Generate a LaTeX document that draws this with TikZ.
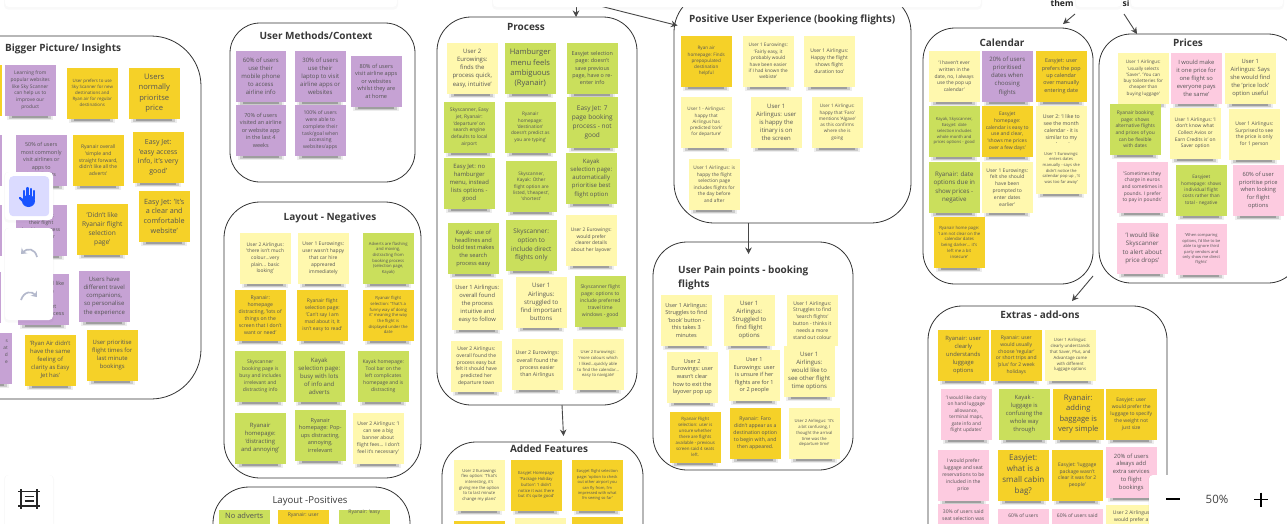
\documentclass[tikz,border=0pt]{standalone}
\usepackage{fontspec}
\setmainfont{Open Sans}
\usetikzlibrary{arrows.meta}
\definecolor{ly}{HTML}{FFF8AE}
\definecolor{og}{HTML}{F5D128}
\definecolor{gr}{HTML}{CADF5C}
\definecolor{pu}{HTML}{C6A2D4}
\definecolor{pk}{HTML}{FDCBE0}
\definecolor{ink}{HTML}{555555}
\definecolor{frameink}{HTML}{333333}
\definecolor{tone}{HTML}{B4B9CC}
\newcommand{\setnotefont}[1]{\pgfmathsetmacro{\fsz}{#1*1.0}\pgfmathsetmacro{\lsp}{#1*1.36}\fontsize{\fsz}{\lsp}\selectfont}
\tikzset{
 notebox/.style={anchor=north west,minimum width=50.5pt,minimum height=50.5pt,text width=62pt,inner xsep=-5.75pt,inner ysep=0pt,outer sep=0pt,align=flush center,text=ink},
 framebox/.style={draw=frameink,line width=0.8pt,anchor=north west,inner sep=0pt,outer sep=0pt},
 titlebox/.style={text=black!78,font=\fontsize{10}{13.5}\selectfont\bfseries,inner sep=0pt},
 conn/.style={draw=black!72,line width=0.9pt,-{Stealth[length=6.5pt,width=6.5pt]}},
 panelbox/.style={fill=white,anchor=north west,inner sep=0pt,outer sep=0pt,rounded corners=4pt},
 uiarrow/.style={draw=tone,line width=1.7pt,-{Stealth[length=5pt,width=8pt]}},
 iconline/.style={draw=black!85,line width=1.6pt}
}
% name, x, y, colour, size, text
\newcommand{\stickynote}[6]{%
 \fill[black,opacity=.07] (#2+2,#3+49) rectangle (#2+48,#3+54.5);
 \fill[black,opacity=.14] (#2+4,#3+49) rectangle (#2+46,#3+53.5);
 \fill[black,opacity=.22] (#2+7,#3+49) rectangle (#2+43,#3+52.5);
 \node[notebox,fill=#4,font={\setnotefont{#5}}] (#1) at (#2,#3) {#6};
}
% name, x1, y1, x2, y2, radius
\newcommand{\frameregion}[6]{%
 \node[framebox,rounded corners=#6pt,minimum width={(#4-#2)*1pt},minimum height={(#5-#3)*1pt}] (#1) at (#2,#3) {};
}
% name, x1, y1, x2, y2
\newcommand{\uipanel}[5]{%
 \fill[black,opacity=.025,rounded corners=4pt] (#2-1,#3) rectangle (#4+1,#5+2.5);
 \node[panelbox,minimum width={(#4-#2)*1pt},minimum height={(#5-#3)*1pt}] (#1) at (#2,#3) {};
}
\begin{document}
\begin{tikzpicture}[x=1pt,y=-1pt]
\useasboundingbox (0,0) rectangle (1287,523);
\clip (0,0) rectangle (1287,523);
\fill[white] (0,0) rectangle (1287,523);

% frames
\frameregion{bigger}{-80}{36}{201}{399}{50}
\frameregion{methods}{230}{23}{415}{182}{30}
\frameregion{layneg}{224}{202}{421}{478}{36}
\frameregion{laypos}{213}{487}{410}{600}{36}
\frameregion{process}{437}{17}{637}{405}{34}
\frameregion{added}{442}{442}{643}{620}{34}
\frameregion{positive}{674}{-8}{911}{223}{40}
\frameregion{pain}{653}{242}{853}{470}{34}
\frameregion{calendar}{923}{28}{1093}{284}{32}
\frameregion{prices}{1099}{34}{1300}{283}{32}
\frameregion{extras}{928}{306}{1167}{620}{34}

% titles
\node[titlebox,anchor=west] (tbig) at (5,49) {Bigger Picture/ Insights};
\node[titlebox] (tmeth) at (316,36) {User Methods/Context};
\node[titlebox] (tneg) at (330,218) {Layout - Negatives};
\node[titlebox,font=\fontsize{9.6}{12.5}\selectfont] (tpos) at (310,501) {Layout -Positives};
\node[titlebox] (tproc) at (526,27) {Process};
\node[titlebox] (tadd) at (549,449) {Added Features};
\node[titlebox,anchor=west] (tgood) at (689,20) {Positive User Experience (booking flights)};
\node[titlebox,anchor=north west,align=left] (tpain) at (678,266) {User Pain points - booking\\flights};
\node[titlebox] (tcal) at (1002,43) {Calendar};
\node[titlebox] (tpri) at (1188,43) {Prices};
\node[titlebox] (text) at (1040,315) {Extras - add-ons};

% Bigger picture
\stickynote{bs1}{-49}{65}{og}{5}{}
\stickynote{bs2}{-49}{135}{pu}{5}{}
\stickynote{bs3}{-49}{205}{pu}{5}{}
\stickynote{bs4}{-50}{272}{pu}{5}{}
\stickynote{b1}{5}{65}{pu}{4.9}{Learning from\\popular websites\\like Sky Scanner\\can help us to\\improve our\\product}
\stickynote{b2}{67}{68}{og}{4.4}{User prefers to use\\Sky Scanner for new\\destinations and\\Ryan air for regular\\destinations}
\stickynote{b3}{129}{68}{og}{7.6}{Users\\normally\\prioritse\\price}
\stickynote{b4}{16}{135}{pu}{5.4}{50\% of users\\most commonly\\visit airlines or\\apps to\\book flights}
\stickynote{b5}{73}{135}{og}{5}{Ryanair overall\\'simple and\\straight forward,\\didn't like all the\\adverts'}
\stickynote{b6}{133}{132}{og}{7}{Easy Jet:\\'easy access\\info, it's very\\good'}
\stickynote{b7}{16}{205}{pu}{5}{Users start\\their flight\\booking process\\on Kayak or\\Sky}
\stickynote{b8}{77}{204}{og}{6.6}{'Didn't like\\Ryanair flight\\selection\\page'}
\stickynote{b9}{139}{191}{og}{7.2}{Easy Jet: 'It's\\a clear and\\comfortable\\website'}
\stickynote{b10}{18}{274}{pu}{5.5}{Users would like\\a simple\\and\\consistent\\booking process}
\stickynote{b11}{79}{271}{pu}{6}{Users have\\different travel\\companions,\\so personalise\\the experience}
\stickynote{b12}{-39}{333}{pu}{5}{}
\node[anchor=north east,align=right,text=ink,inner sep=0pt,font=\fontsize{4.8}{7}\selectfont] (b12t) at (8,340) {s\\at\\d\\e};
\stickynote{b13}{25}{335}{og}{5.9}{'Ryan Air didn't\\have the same\\feeling of\\clarity as Easy\\Jet has'}
\stickynote{b14}{87}{330}{og}{5.9}{User prioritise\\flight times for\\last minute\\bookings}

% User methods
\stickynote{m1}{235.5}{51}{pu}{6}{60\% of users\\use their\\mobile phone\\to access\\airline info}
\stickynote{m2}{295}{51}{pu}{6}{30\% of users\\use their\\laptop to visit\\airline apps or\\websites}
\stickynote{m3}{351}{56}{pu}{5.6}{80\% of users\\visit airline apps\\or websites\\whilst they are\\at home}
\stickynote{m4}{235.5}{105}{pu}{5.5}{70\% of users\\visited an airline\\or website app\\in the last 4\\weeks}
\stickynote{m5}{295}{105}{pu}{5.1}{100\% of users\\were able to\\complete their\\task/goal when\\accessing\\websites/apps}

% Layout negatives
\stickynote{n1}{240}{233}{ly}{4.9}{User 2 Airlingus:\\'there isn't much\\colour...very\\plain... basic\\looking'}
\stickynote{n2}{298}{233}{ly}{5}{User 1 Eurowings:\\user wasn't happy\\that car hire\\appreared\\immediately}
\stickynote{n3}{363}{233}{gr}{4.2}{Adverts are flashing\\and moving,\\distracting from\\booking process\\(selection page,\\Kayak)}
\stickynote{n4}{235}{290}{og}{5.1}{Ryanair:\\homepage\\distracting, 'lots of\\things on the\\screen that I don't\\want or need'}
\stickynote{n5}{297}{290}{og}{5}{Ryanair flight\\selection page:\\'Can't say I am\\mad about it, It\\isn't easy to read'}
\stickynote{n6}{363}{290}{og}{4.2}{Ryanair flight\\selection: 'That's a\\funny way of doing\\it' meaning the way\\the flight is\\displayed under the\\date}
\stickynote{n7}{235}{351}{gr}{5}{Skyscanner\\booking page is\\busy and includes\\irrelevant and\\distracting info}
\stickynote{n8}{294}{351}{gr}{6}{Kayak\\selection page:\\busy with lots\\of info and\\adverts}
\stickynote{n9}{358}{351}{gr}{5}{Kayak homepage:\\Tool bar on the\\left complicates\\homepage and is\\distracting}
\stickynote{n10}{235}{413}{gr}{5.9}{Ryanair\\homepage:\\'distracting\\and annoying'}
\stickynote{n11}{295}{410}{gr}{5.5}{Ryanair\\homepage: Pop-\\ups distracting,\\annoying,\\irrelevant}
\stickynote{n12}{353}{413}{ly}{5}{User 2 Airlingus: 'I\\can see a big\\banner about\\flight fees... I don't\\feel it's necessary'}

% Layout positives
\stickynote{l1}{219}{510}{gr}{7.5}{No adverts\\[30pt]~}
\stickynote{l2}{278}{510}{og}{5}{Ryanair: user\\[34pt]~}
\stickynote{l3}{339}{510}{gr}{5}{Ryanair: 'easy\\[40pt]~}

% Process
\stickynote{p1}{447}{43}{ly}{6}{User 2\\Eurowings:\\finds the\\process quick,\\easy, intuitive'}
\stickynote{p2}{505}{43}{gr}{7.6}{Hamburger\\menu feels\\ambiguous\\(Ryanair)}
\stickynote{p3}{567}{43}{gr}{5.4}{Easyjet selection\\page: doesn't\\save previous\\page, have o re-\\enter info}
\stickynote{p4}{444}{102}{gr}{4.9}{Skyscanner, Easy\\jet, Ryanair:\\'departure' on\\search engine\\defaults to local\\airport}
\stickynote{p5}{505}{102}{gr}{4.7}{Ryanair\\homepage:\\'destination'\\doesn't predict as\\you are typing'}
\stickynote{p6}{567}{97}{gr}{6.5}{Easy Jet: 7\\page booking\\process - not\\good}
\stickynote{p7}{444}{158}{gr}{5.9}{Easy Jet: no\\hamburger\\menu, instead\\lists options -\\good}
\stickynote{p8}{506}{161}{gr}{4.7}{Skyscanner,\\Kayak: Other\\flight option are\\listed, 'cheapest',\\'shortest'}
\stickynote{p9}{566}{153}{gr}{6}{Kayak\\selection page:\\automatically\\prioritise best\\flight option}
\stickynote{p10}{448}{223}{gr}{5.7}{Kayak: use of\\headlines and\\bold test makes\\the search\\process easy}
\stickynote{p11}{506}{220}{gr}{6.4}{Skyscanner:\\option to\\include direct\\flights only}
\stickynote{p12}{566}{215}{ly}{4.9}{User 2 Eurowings:\\would prefer\\clearer details\\about her layover}
\stickynote{p13}{452}{279}{ly}{5.8}{User 1 Airlingus:\\overall found\\the process\\intuitive and\\easy to follow}
\stickynote{p14}{516}{277}{ly}{6.1}{User 1\\Airlingus:\\struggled to\\find important\\buttons}
\stickynote{p15}{575}{276}{gr}{5}{Skyscanner flight\\page: options to\\include preferred\\travel time\\windows - good}
\stickynote{p16}{451}{341}{ly}{5}{User 2 Airlingus:\\overall found the\\process easy but\\felt it should have\\predicted her\\departure town}
\stickynote{p17}{512}{339}{ly}{5.2}{User 2 Eurowings:\\overall found the\\process easier\\than Airlingus}
\stickynote{p18}{573}{339}{ly}{4.2}{User 2 Eurowings:\\'more colours which\\I liked...quickly able\\to find the calendar...\\easy to navigate'}

% Added features
\stickynote{a1}{454}{460}{ly}{4.2}{User 2 Eurowings\\flex option: 'That's\\interesting, it's\\giving me the option\\to to last minute\\change my plans'}
\stickynote{a2}{511}{460}{og}{4.2}{Easyjet Homepage\\'Package Holiday\\button': 'I didn't\\notice it was there\\but it's quite good'}
\stickynote{a3}{572}{460}{og}{4}{Easyjet flight selection\\page: 'option to check\\out other airport you\\can fly from, I'm\\impressed with what\\I'm seeing so far'}
\stickynote{a4}{454}{521}{og}{4}{}
\stickynote{a5}{515}{518}{ly}{4}{}
\stickynote{a6}{572}{517}{og}{4}{}

% Positive experience
\stickynote{u1}{681}{36}{og}{4.6}{Ryan air\\homepage: Finds\\prepopulated\\destination\\helpful}
\stickynote{u2}{743}{36}{ly}{4.7}{User 1 Eurowings:\\'Fairly easy, it\\probably would\\have been easier\\if I had known the\\webiste'}
\stickynote{u3}{804}{36}{ly}{5}{User 1 Airlingus:\\Happy the flight\\shows flight\\duration too'}
\stickynote{u4}{681}{97}{ly}{4.6}{User 1 - Airlingus:\\happy that\\Airlingus has\\predicted 'cork'\\for departure'}
\stickynote{u5}{751}{97}{ly}{6}{User 1\\Airlingus: user\\is happy the\\itinary is on\\the screen}
\stickynote{u6}{812}{97}{ly}{4.6}{User 1 Airlingus:\\happy that 'Faro'\\mentions 'Algave'\\as this confirms\\where she is\\going}
\stickynote{u7}{689}{159}{ly}{4.8}{User 1 Airlingus: is\\happy the flight\\selection page\\includes flights for\\the day before\\and after}

% Pain points
\stickynote{f1}{661}{295}{ly}{5.5}{User 1 Airlingus:\\Struggles to find\\'book' button -\\this takes 3\\minutes}
\stickynote{f2}{724}{295}{ly}{6}{User 1\\Airlingus:\\Struggled to\\find flight\\options}
\stickynote{f3}{787}{295}{ly}{5}{User 1 Airlingus:\\Struggles to find\\'search flights'\\button - thinks it\\needs a more\\stand out colour}
\stickynote{f4}{667}{352}{ly}{5.6}{User 2\\Eurowings: user\\wasn't clear\\how to exit the\\layover pop up}
\stickynote{f5}{729}{350}{ly}{5.5}{User 1\\Eurowings: user\\is unsure if her\\flights are for 1\\or 2 people}
\stickynote{f6}{784}{346}{ly}{6}{User 1\\Airlingus:\\would like to\\see other flight\\time options}
\stickynote{f7}{670}{412}{og}{4.4}{Ryanair Flight\\selection: user is\\unsure whether\\there are flights\\available - previous\\screen said 4 seats\\left.}
\stickynote{f8}{730}{408}{og}{5.1}{Ryanair: Faro\\didn't appear as a\\destination option\\to begin with, and\\then appeared.}
\stickynote{f9}{789}{408}{ly}{4.2}{User 2 Airlingus: 'It's\\a bit confusing, I\\thought the arrival\\time was the\\departure time'}

% Calendar
\stickynote{c1}{929}{51}{ly}{4.9}{'I haven't ever\\written in the\\date, no, I always\\use the pop up\\calendar'}
\stickynote{c2}{982}{51}{pu}{6}{20\% of users\\prioritised\\dates when\\choosing\\flights}
\stickynote{c3}{1036}{51}{og}{5.4}{Easyjet: user\\prefers the pop\\up calendar\\over manually\\entering date}
\stickynote{c4}{929}{106}{gr}{4.2}{Kayak, Skyscanner,\\Easyjet: date\\selection includes\\whole month and\\prices options - good}
\stickynote{c5}{982}{106}{og}{5}{Easyjet\\homepage:\\calendar is easy to\\use and clear,\\'shows me prices\\over a few days'}
\stickynote{c6}{1036}{106}{ly}{5.2}{User 2: 'I like to\\see the month\\calendar - it is\\similar to my\\phone'}
\stickynote{c7}{1036}{143}{ly}{4.1}{User 1 Eurowings:\\enters dates\\manually - says she\\didn't notice the\\calendar pop up , 'it\\was too far away'}
\stickynote{c8}{929}{162}{gr}{6.2}{Ryanair: date\\options due in\\show prices -\\negative}
\stickynote{c9}{982}{162}{ly}{5}{User 1 Eurowings:\\felt she should\\have been\\prompted to\\enter dates\\earlier'}
\stickynote{c10}{934}{217}{og}{4.3}{Ryanair home page:\\'I am not clear on the\\calendar dates\\being darker... it's\\left me a bit\\insecure'}

% Prices
\stickynote{r1}{1118}{53}{ly}{4.6}{User 1 Airlingus:\\'usually selects\\'Saver'. 'You can\\buy toiletteries for\\cheaper than\\buying luggage'}
\stickynote{r2}{1171}{53}{pk}{5.8}{I would make\\it one price for\\one flight so\\everyone pays\\the same'}
\stickynote{r3}{1225}{53}{ly}{5.8}{User 1\\Airlingus: Says\\she would find\\the 'price lock'\\option useful}
\stickynote{r4}{1110}{104}{gr}{4.9}{Ryanair booking\\page: shows\\alternative flights\\and prices of you\\can be flexible\\with dates}
\stickynote{r5}{1170}{108}{ly}{4.9}{User 1 Airlingus: 'I\\don't know what\\Collect Avios or\\Earn Credits is' on\\Saver option}
\stickynote{r6}{1229}{109}{ly}{5}{User 1 Airlingus:\\Surprised to see\\the price is only\\for 1 person}
\stickynote{r7}{1117}{162}{pk}{4.9}{'Sometimes they\\charge in euros\\and sometimes in\\pounds. I prefer\\to pay in pounds'}
\stickynote{r8}{1176}{165}{gr}{4.7}{Easyjeet\\homepage: shows\\individual flight\\costs rather than\\total - negative}
\stickynote{r9}{1233}{165}{pk}{5.7}{60\% of user\\prioritise price\\when looking\\for flight\\options}
\stickynote{r10}{1117}{223}{pk}{6.2}{'I would like\\Skyscanner\\to alert about\\price drops'}
\stickynote{r11}{1176}{224}{pk}{4}{'When comparing\\options, I'd like to be\\able to ignore third\\party vendors and\\only show me direct\\flights'}

% Extras
\stickynote{e1}{938}{330}{og}{5.8}{Ryanair: user\\clearly\\understands\\luggage\\options}
\stickynote{e2}{991}{330}{og}{5}{Ryanair: user\\would usually\\choose 'regular'\\or short trips and\\'plus' for 2 week\\holidays}
\stickynote{e3}{1045}{330}{ly}{4.3}{User 1 Airlingus:\\clearly understands\\that Saver, Plus, and\\Advantage come\\with different\\luggage options}
\stickynote{e4}{941}{389}{pk}{4.8}{'I would like clarity\\on hand luggage\\allowance,\\terminal maps,\\gate info and\\flight updates'}
\stickynote{e5}{999}{389}{gr}{5.8}{Kayak -\\luggage is\\confusing the\\whole way\\through}
\stickynote{e6}{1053}{389}{og}{7.6}{Ryanair:\\adding\\baggage is\\very simple}
\stickynote{e7}{1106}{389}{og}{5}{Easyjet: user\\would prefer the\\luggage to specify\\the weight not\\just size}
\stickynote{e8}{938}{450}{pk}{5}{I would prefer\\luggage and seat\\reservations to be\\included in the\\price}
\stickynote{e9}{998}{450}{og}{8}{Easyjet:\\what is a\\small cabin\\bag?}
\stickynote{e10}{1052}{450}{og}{5}{Easyjet: 'luggage\\package wasn't\\clear it was for 2\\people'}
\stickynote{e11}{1106}{447}{pk}{5.8}{20\% of users\\always add\\extra services\\to flight\\bookings}
\stickynote{e12}{938}{504}{pk}{5}{30\% of users said\\seat selection was\\[22pt]~}
\stickynote{e13}{998}{509}{pk}{5}{60\% of users\\[30pt]~}
\stickynote{e14}{1052}{509}{pk}{5}{60\% of users said\\[30pt]~}
\stickynote{e15}{1106}{505}{ly}{5}{User 2 Airlingus\\would prefer a\\[22pt]~}

% connectors
\coordinate (ctop) at (576,-4);
\coordinate (cside) at (600,6);
\coordinate (cthem) at (1075,14);
\coordinate (csi) at (1124,14);
\draw[conn] (ctop) -- (576,17);
\draw[conn] (cside) -- (677.5,25.5);
\draw[conn] ([xshift=25pt]process.south) -- ([xshift=21pt,yshift=6pt]added.north);
\draw[conn] ([xshift=-44pt]positive.south) -- ([xshift=-4.5pt,yshift=-12pt]pain.north);
\draw[conn] (cthem) -- (1063,24);
\draw[conn] (csi) -- (1137,34);
\draw[conn] ([xshift=85pt,yshift=8pt]calendar.south) -- ([xshift=24.5pt,yshift=5pt]extras.north);

% interface panels
\uipanel{pa}{5}{-8}{397}{7}
\uipanel{pb}{493}{-8}{981}{7}
\uipanel{pc}{1076}{-8}{1121}{7}
\uipanel{pd}{1131}{-8}{1283}{7}
\node[anchor=base,font=\fontsize{8.6}{10}\selectfont\bfseries,text=black!85,inner sep=0pt] (wthem) at (1062,6) {them};
\node[anchor=base,font=\fontsize{8.6}{10}\selectfont\bfseries,text=black!85,inner sep=0pt] (wsi) at (1126,6) {si};

\uipanel{phand}{5}{172}{53}{220}
\node[fill=blue!14!white,draw=none,rounded corners=4pt,minimum size=40pt,inner sep=0pt,anchor=north west] (hbtn) at (9,176) {};
\fill[blue!75!cyan!90!white] (28.5,201) ellipse (6.5 and 6);
\draw[line width=2.3pt,line cap=round,blue!75!cyan!90!white] (24,199) -- (24,191);
\draw[line width=2.3pt,line cap=round,blue!75!cyan!90!white] (27.5,199) -- (27.5,188);
\draw[line width=2.3pt,line cap=round,blue!75!cyan!90!white] (31,199) -- (31,189);
\draw[line width=2.3pt,line cap=round,blue!75!cyan!90!white] (34.2,199) -- (34.2,191);
\draw[line width=2.3pt,line cap=round,blue!75!cyan!90!white] (25,203) -- (20,198);
\uipanel{pundo}{5}{228}{53}{320}
\draw[uiarrow] (37,257) .. controls (35,248) and (27,248) .. (21,254);
\draw[uiarrow] (21,300) .. controls (24,291) and (32,291) .. (37,297);
\uipanel{pframe}{5}{475}{53}{530}
\draw[iconline] (18,491.5) -- (40,491.5);
\draw[iconline] (18,506) -- (40,506);
\draw[iconline] (21,489) -- (21,508.5);
\draw[iconline] (37,489) -- (37,508.5);
\draw[iconline] (24.5,496.5) -- (33.5,496.5);
\draw[iconline] (24.5,501) -- (33.5,501);
\uipanel{pzoom}{1149}{475}{1300}{530}
\node[font=\fontsize{11.5}{13}\selectfont,text=black!75,inner sep=0pt] (zoomlabel) at (1217,499) {50\%};
\draw[iconline,black] (1166,499) -- (1180,499);
\draw[iconline,black] (1254,499.5) -- (1268,499.5);
\draw[iconline,black] (1261,492.5) -- (1261,506.5);
\end{tikzpicture}
\end{document}
